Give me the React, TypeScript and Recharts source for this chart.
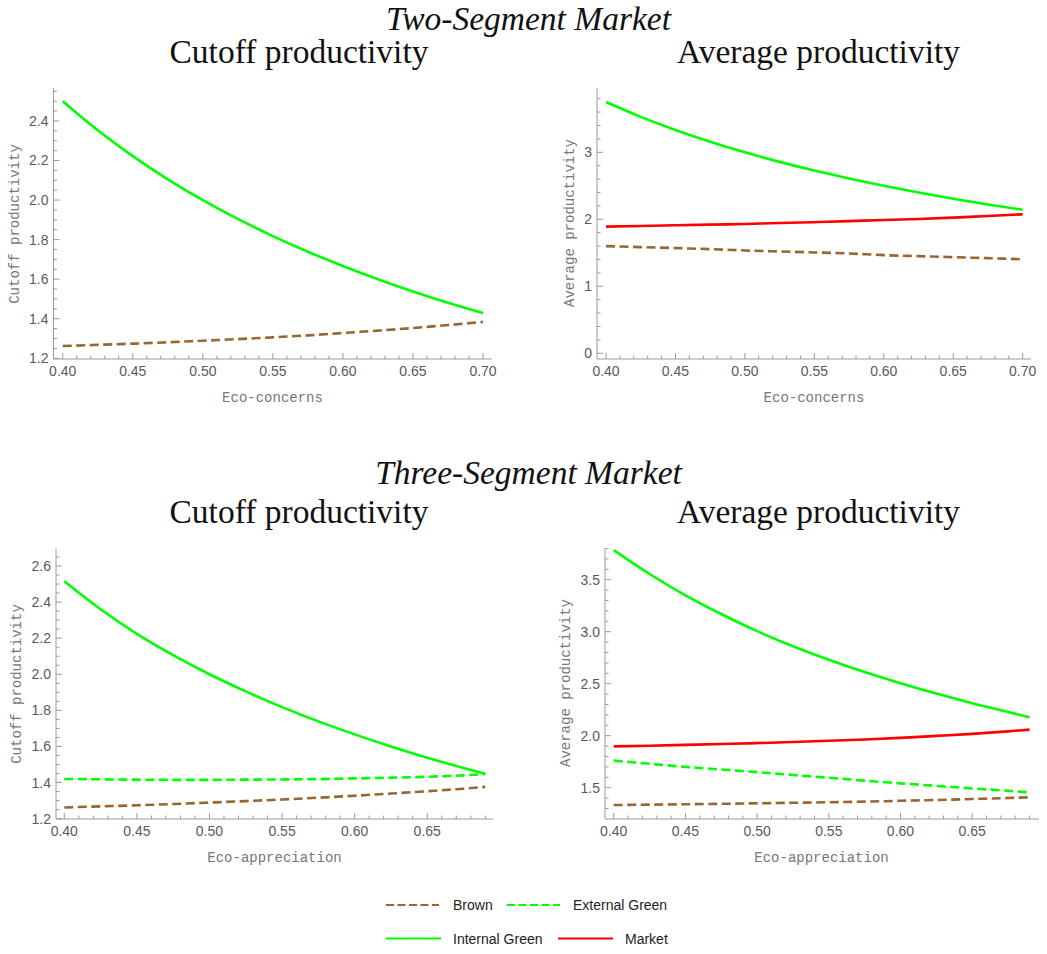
import React from 'react';
import { LineChart, Line, XAxis, YAxis } from 'recharts';

// ---------- data ----------
const xTop = [0.4, 0.425, 0.45, 0.475, 0.5, 0.525, 0.55, 0.575, 0.6, 0.625, 0.65, 0.675, 0.7];
const twoCutoffInternal = [2.5, 2.353, 2.222, 2.105, 2.0, 1.905, 1.818, 1.739, 1.667, 1.6, 1.538, 1.481, 1.429];
const twoCutoffBrown = [1.262, 1.268, 1.274, 1.281, 1.289, 1.297, 1.306, 1.316, 1.328, 1.34, 1.353, 1.368, 1.384];
const twoAvgInternal = [3.75, 3.529, 3.333, 3.158, 3.0, 2.857, 2.727, 2.609, 2.5, 2.4, 2.308, 2.222, 2.143];
const twoAvgMarket = [1.89, 1.9, 1.91, 1.92, 1.93, 1.945, 1.957, 1.972, 1.99, 2.005, 2.025, 2.05, 2.075];
const twoAvgBrown = [1.6, 1.585, 1.57, 1.555, 1.535, 1.52, 1.505, 1.49, 1.465, 1.45, 1.435, 1.42, 1.403];

const xBottom = [0.4, 0.425, 0.45, 0.475, 0.5, 0.525, 0.55, 0.575, 0.6, 0.625, 0.65, 0.675, 0.69];
const threeCutoffInternal = [2.515, 2.36, 2.224, 2.106, 2.0, 1.905, 1.818, 1.739, 1.667, 1.6, 1.538, 1.481, 1.449];
const threeCutoffExternal = [1.42, 1.418, 1.416, 1.415, 1.415, 1.416, 1.417, 1.419, 1.423, 1.427, 1.432, 1.44, 1.447];
const threeCutoffBrown = [1.262, 1.268, 1.274, 1.281, 1.289, 1.297, 1.306, 1.316, 1.327, 1.339, 1.352, 1.366, 1.376];
const threeAvgInternal = [3.785, 3.555, 3.35, 3.17, 3.005, 2.86, 2.73, 2.612, 2.505, 2.405, 2.313, 2.228, 2.177];
const threeAvgMarket = [1.897, 1.904, 1.912, 1.92, 1.929, 1.939, 1.951, 1.964, 1.979, 1.998, 2.018, 2.042, 2.058];
const threeAvgExternal = [1.76, 1.73, 1.7, 1.675, 1.65, 1.622, 1.596, 1.568, 1.542, 1.517, 1.493, 1.47, 1.455];
const threeAvgBrown = [1.333, 1.337, 1.341, 1.345, 1.35, 1.355, 1.36, 1.366, 1.374, 1.382, 1.391, 1.401, 1.408];

const xMajorTop = [0.4, 0.45, 0.5, 0.55, 0.6, 0.65, 0.7];
const xMajorBottom = [0.4, 0.45, 0.5, 0.55, 0.6, 0.65];
const yMajor1 = [1.2, 1.4, 1.6, 1.8, 2.0, 2.2, 2.4];
const yMajor2 = [0, 1, 2, 3];
const yMajor3 = [1.2, 1.4, 1.6, 1.8, 2.0, 2.2, 2.4, 2.6];
const yMajor4 = [1.5, 2.0, 2.5, 3.0, 3.5];

const seriesNames = ['Brown', 'External Green', 'Internal Green', 'Market'];

// ---------- style ----------
const BROWN = '#996633';
const GREEN = '#00ff00';
const RED = '#ff0000';
const AXIS = '#9a9a9a';
const TICKTXT = '#5a5a5a';
const LABEL = '#777777';
const SERIF = '"Liberation Serif", "Times New Roman", serif';
const SANS = '"Liberation Sans", Arial, sans-serif';
const MONO = '"Liberation Mono", "Courier New", monospace';

const YW = 40;
const XH = 30;

const range = (a: number, b: number, s: number) => {
  const out: number[] = [];
  const n = Math.round((b - a) / s);
  for (let i = 0; i <= n; i++) out.push(Math.round((a + i * s) * 1000) / 1000);
  return out;
};

const isIn = (arr: number[], v: number) => arr.some((m) => Math.abs(m - v) < 1e-6);

const makeXTick = (majors: number[]) => (props: any) => {
  const { x, y, payload } = props;
  const v = payload.value as number;
  const major = isIn(majors, v);
  return (
    <g>
      <line x1={x} x2={x} y1={y} y2={y - (major ? 6 : 3.5)} stroke={AXIS} strokeWidth={1} />
      {major && (
        <text x={x} y={y + 17} textAnchor="middle" fontFamily={SANS} fontSize={14} fill={TICKTXT}>
          {v.toFixed(2)}
        </text>
      )}
    </g>
  );
};

const makeYTick = (majors: number[], digits: number) => (props: any) => {
  const { x, y, payload } = props;
  const v = payload.value as number;
  const major = isIn(majors, v);
  return (
    <g>
      <line x1={x} x2={x + (major ? 6 : 3.5)} y1={y} y2={y} stroke={AXIS} strokeWidth={1} />
      {major && (
        <text x={x - 5} y={y + 5} textAnchor="end" fontFamily={SANS} fontSize={14} fill={TICKTXT}>
          {v.toFixed(digits)}
        </text>
      )}
    </g>
  );
};

type SeriesDef = { key: string; values: number[]; color: string; dashed: boolean };

type PanelProps = {
  box: { left: number; top: number; width: number; height: number };
  plot: { left: number; top: number; right: number; bottom: number };
  xs: number[];
  series: SeriesDef[];
  xDomain: [number, number];
  yDomain: [number, number];
  xTicks: number[];
  xMajors: number[];
  yTicks: number[];
  yMajors: number[];
  yDigits: number;
};

const Panel = (p: PanelProps) => {
  const data = p.xs.map((x, i) => {
    const row: any = { x };
    p.series.forEach((s) => (row[s.key] = s.values[i]));
    return row;
  });
  const margin = {
    top: p.plot.top - p.box.top,
    left: p.plot.left - p.box.left - YW,
    right: p.box.left + p.box.width - p.plot.right,
    bottom: p.box.top + p.box.height - p.plot.bottom - XH,
  };
  return (
    <div style={{ position: 'absolute', left: p.box.left, top: p.box.top }}>
      <LineChart width={p.box.width} height={p.box.height} data={data} margin={margin}>
        <XAxis
          dataKey="x"
          type="number"
          domain={p.xDomain}
          allowDataOverflow
          ticks={p.xTicks}
          interval={0}
          height={XH}
          tickSize={0}
          tickMargin={0}
          tickLine={false}
          axisLine={{ stroke: AXIS, strokeWidth: 1 }}
          tick={makeXTick(p.xMajors)}
        />
        <YAxis
          type="number"
          domain={p.yDomain}
          allowDataOverflow
          ticks={p.yTicks}
          interval={0}
          width={YW}
          tickSize={0}
          tickMargin={0}
          tickLine={false}
          axisLine={{ stroke: AXIS, strokeWidth: 1 }}
          tick={makeYTick(p.yMajors, p.yDigits)}
        />
        {p.series.map((s) => (
          <Line
            key={s.key}
            dataKey={s.key}
            type="monotone"
            stroke={s.color}
            strokeWidth={2.6}
            strokeDasharray={s.dashed ? '9 4.5' : undefined}
            dot={false}
            activeDot={false}
            isAnimationActive={false}
          />
        ))}
      </LineChart>
    </div>
  );
};

const Txt = ({ x, y, children, style }: any) => (
  <div
    style={{
      position: 'absolute',
      left: x,
      top: y,
      transform: 'translate(-50%, -50%)',
      whiteSpace: 'nowrap',
      lineHeight: 1,
      ...style,
    }}
  >
    {children}
  </div>
);

const Title = ({ cx, top, italic, children }: any) => (
  <div
    style={{
      position: 'absolute',
      left: cx,
      top,
      transform: 'translateX(-50%)',
      whiteSpace: 'nowrap',
      lineHeight: '26px',
      fontFamily: SERIF,
      fontSize: 33.5,
      fontStyle: italic ? 'italic' : 'normal',
      color: '#111',
    }}
  >
    {children}
  </div>
);

const VTxt = ({ x, y, children }: any) => (
  <div
    style={{
      position: 'absolute',
      left: x,
      top: y,
      transform: 'translate(-50%, -50%) rotate(-90deg)',
      whiteSpace: 'nowrap',
      lineHeight: 1,
      fontFamily: MONO,
      fontSize: 14,
      color: LABEL,
    }}
  >
    {children}
  </div>
);

const axisLbl = { fontFamily: MONO, fontSize: 14, color: LABEL };

export default function App() {
  const xTicksTop = range(0.4, 0.7, 0.01);
  const xTicksBottom = range(0.4, 0.69, 0.01);

  return (
    <div style={{ position: 'absolute', left: 0, top: 0, width: 1047, height: 954, background: '#fff', overflow: 'hidden' }}>
      <Title cx={528.5} top={6} italic>Two-Segment Market</Title>
      <Title cx={299} top={39}>Cutoff productivity</Title>
      <Title cx={818.5} top={39}>Average productivity</Title>
      <Title cx={528.5} top={460} italic>Three-Segment Market</Title>
      <Title cx={299} top={499}>Cutoff productivity</Title>
      <Title cx={818.5} top={499}>Average productivity</Title>

      <Panel
        box={{ left: 0, top: 70, width: 520, height: 340 }}
        plot={{ left: 53.5, top: 88.3, right: 491.7, bottom: 359 }}
        xs={xTop}
        series={[
          { key: 'brown', values: twoCutoffBrown, color: BROWN, dashed: true },
          { key: 'internal', values: twoCutoffInternal, color: GREEN, dashed: false },
        ]}
        xDomain={[0.3934, 0.7062]}
        yDomain={[1.1965, 2.565]}
        xTicks={xTicksTop}
        xMajors={xMajorTop}
        yTicks={range(1.2, 2.55, 0.05)}
        yMajors={yMajor1}
        yDigits={1}
      />
      <Panel
        box={{ left: 540, top: 70, width: 507, height: 340 }}
        plot={{ left: 597, top: 88.3, right: 1031, bottom: 359 }}
        xs={xTop}
        series={[
          { key: 'brown', values: twoAvgBrown, color: BROWN, dashed: true },
          { key: 'internal', values: twoAvgInternal, color: GREEN, dashed: false },
          { key: 'market', values: twoAvgMarket, color: RED, dashed: false },
        ]}
        xDomain={[0.3935, 0.706]}
        yDomain={[-0.085, 3.955]}
        xTicks={xTicksTop}
        xMajors={xMajorTop}
        yTicks={range(0, 3.8, 0.2)}
        yMajors={yMajor2}
        yDigits={0}
      />
      <Panel
        box={{ left: 0, top: 530, width: 520, height: 340 }}
        plot={{ left: 56, top: 548.3, right: 493.3, bottom: 819 }}
        xs={xBottom}
        series={[
          { key: 'brown', values: threeCutoffBrown, color: BROWN, dashed: true },
          { key: 'external', values: threeCutoffExternal, color: GREEN, dashed: true },
          { key: 'internal', values: threeCutoffInternal, color: GREEN, dashed: false },
        ]}
        xDomain={[0.3943, 0.6955]}
        yDomain={[1.198, 2.698]}
        xTicks={xTicksBottom}
        xMajors={xMajorBottom}
        yTicks={range(1.2, 2.65, 0.05)}
        yMajors={yMajor3}
        yDigits={1}
      />
      <Panel
        box={{ left: 540, top: 530, width: 507, height: 340 }}
        plot={{ left: 605, top: 548.3, right: 1039, bottom: 819 }}
        xs={xBottom}
        series={[
          { key: 'brown', values: threeAvgBrown, color: BROWN, dashed: true },
          { key: 'external', values: threeAvgExternal, color: GREEN, dashed: true },
          { key: 'internal', values: threeAvgInternal, color: GREEN, dashed: false },
          { key: 'market', values: threeAvgMarket, color: RED, dashed: false },
        ]}
        xDomain={[0.3939, 0.6966]}
        yDomain={[1.199, 3.802]}
        xTicks={xTicksBottom}
        xMajors={xMajorBottom}
        yTicks={range(1.3, 3.8, 0.1)}
        yMajors={yMajor4}
        yDigits={1}
      />

      <Txt x={272.5} y={398} style={axisLbl}>Eco-concerns</Txt>
      <Txt x={814} y={398} style={axisLbl}>Eco-concerns</Txt>
      <Txt x={274.5} y={858} style={axisLbl}>Eco-appreciation</Txt>
      <Txt x={821.5} y={858} style={axisLbl}>Eco-appreciation</Txt>
      <VTxt x={15} y={224}>Cutoff productivity</VTxt>
      <VTxt x={570} y={223}>Average productivity</VTxt>
      <VTxt x={16.5} y={684}>Cutoff productivity</VTxt>
      <VTxt x={566} y={683}>Average productivity</VTxt>

      <svg width={1047} height={74} style={{ position: 'absolute', left: 0, top: 880 }}>
        <line x1={386} x2={439} y1={25} y2={25} stroke={BROWN} strokeWidth={2} strokeDasharray="8 3.5" />
        <text x={453} y={30} fontFamily={SANS} fontSize={14} fill="#222">{seriesNames[0]}</text>
        <line x1={507} x2={560} y1={25} y2={25} stroke={GREEN} strokeWidth={2} strokeDasharray="8 3.5" />
        <text x={573} y={30} fontFamily={SANS} fontSize={14} fill="#222">{seriesNames[1]}</text>
        <line x1={386} x2={441} y1={58.5} y2={58.5} stroke={GREEN} strokeWidth={2} />
        <text x={453} y={64} fontFamily={SANS} fontSize={14} fill="#222">{seriesNames[2]}</text>
        <line x1={558} x2={613} y1={58.5} y2={58.5} stroke={RED} strokeWidth={2} />
        <text x={625} y={64} fontFamily={SANS} fontSize={14} fill="#222">{seriesNames[3]}</text>
      </svg>
    </div>
  );
}
